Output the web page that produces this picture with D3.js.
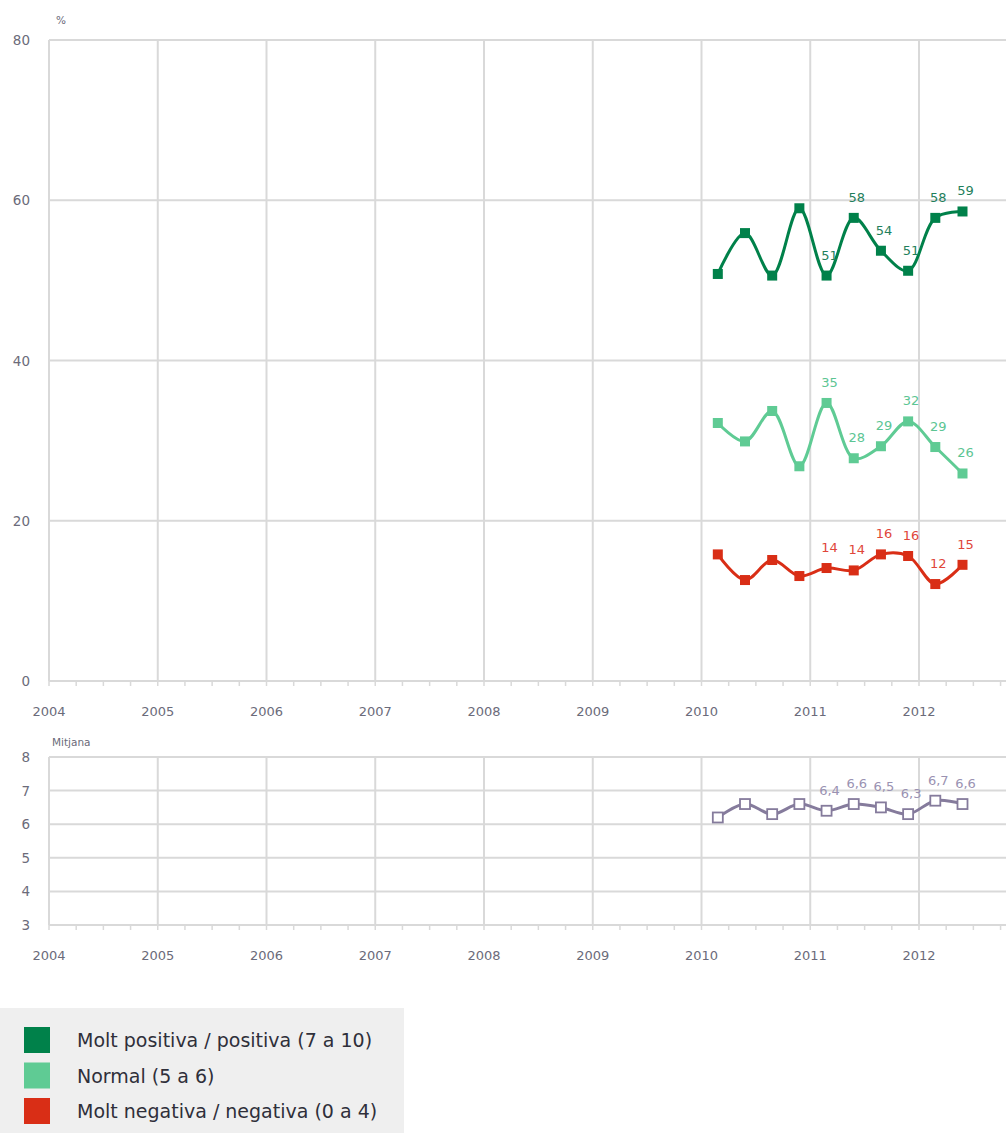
<!DOCTYPE html>
<html lang="ca">
<head>
    <meta charset="UTF-8">
    <script src="https://d3js.org/d3.v7.min.js"></script>
    <title>Valoració</title>
    <style>
        body { margin: 0; background: #fff; }
        text { font-family: "DejaVu Sans", "Liberation Sans", Arial, sans-serif; }
    </style>
</head>
<body>
<div id="viz"></div>
<script>
    // survey waves (decimal years) and values
    const waves = [2010.15, 2010.4, 2010.65, 2010.9, 2011.15, 2011.4, 2011.65, 2011.9, 2012.15, 2012.4];
    const positiva = [50.8, 55.9, 50.6, 59.0, 50.6, 57.8, 53.7, 51.2, 57.8, 58.6];
    const normal = [32.2, 29.9, 33.7, 26.8, 34.7, 27.8, 29.3, 32.4, 29.2, 25.9];
    const negativa = [15.8, 12.6, 15.1, 13.1, 14.1, 13.8, 15.8, 15.6, 12.1, 14.5];
    const mitjana = [6.2, 6.6, 6.3, 6.6, 6.4, 6.6, 6.5, 6.3, 6.7, 6.6];
    const labelFrom = 4; // labels only from 2011 onward
    const years = [2004, 2005, 2006, 2007, 2008, 2009, 2010, 2011, 2012];
    const pctTicks = [0, 20, 40, 60, 80];
    const meanTicks = [3, 4, 5, 6, 7, 8];
    const seriesNames = ["Molt positiva / positiva (7 a 10)", "Normal (5 a 6)", "Molt negativa / negativa (0 a 4)"];
    const seriesColors = ["#00814a", "#5fcb94", "#d92e16"];
    const labelColors = ["#1f7f5c", "#5cc593", "#e0463a"];

    const W = 1006, H = 1133;
    const gridColor = "#d9d9d9", tickColor = "#6b6b7a";

    const svg = d3.select("#viz").append("svg")
        .attr("width", W).attr("height", H);

    const x = d3.scaleLinear().domain([2004, 2013]).range([49, 1027.75]);
    const quarters = d3.range(2004, 2013.01, 0.25);

    // draws grid, axes and ticks for one panel
    function panel(y, ticks, baseY, unit) {
        const g = svg.append("g");
        // horizontal grid
        g.selectAll(".hg").data(ticks).join("line")
            .attr("x1", x(2004)).attr("x2", W)
            .attr("y1", d => y(d)).attr("y2", d => y(d))
            .attr("stroke", gridColor).attr("stroke-width", 2);
        // vertical grid
        g.selectAll(".vg").data(years).join("line")
            .attr("x1", d => x(d)).attr("x2", d => x(d))
            .attr("y1", y(ticks[ticks.length - 1])).attr("y2", baseY)
            .attr("stroke", gridColor).attr("stroke-width", 2);
        // minor ticks
        g.selectAll(".mt").data(quarters).join("line")
            .attr("x1", d => x(d)).attr("x2", d => x(d))
            .attr("y1", baseY).attr("y2", baseY + 5)
            .attr("stroke", gridColor).attr("stroke-width", 1.5);
        // y labels
        g.selectAll(".yl").data(ticks).join("text")
            .attr("x", 30).attr("y", d => y(d) + 5)
            .attr("text-anchor", "end")
            .attr("font-size", 13.5).attr("fill", tickColor)
            .text(d => d);
        // year labels
        g.selectAll(".xl").data(years).join("text")
            .attr("x", d => x(d)).attr("y", baseY + 35)
            .attr("text-anchor", "middle")
            .attr("font-size", 13).attr("fill", tickColor)
            .text(d => d);
        g.append("text")
            .attr("x", unit.x).attr("y", unit.y)
            .attr("font-size", 10.5).attr("fill", tickColor)
            .text(unit.text);
    }

    // top panel
    const y1 = d3.scaleLinear().domain([0, 80]).range([681, 40]);
    panel(y1, pctTicks, 681, {x: 56, y: 24, text: "%"});

    const line = d3.line().curve(d3.curveCatmullRom.alpha(0.5));

    [positiva, normal, negativa].forEach((vals, i) => {
        const pts = vals.map((v, j) => [x(waves[j]), y1(v)]);
        svg.append("path")
            .attr("d", line(pts))
            .attr("fill", "none")
            .attr("stroke", seriesColors[i])
            .attr("stroke-width", 3);
        svg.selectAll(null).data(pts).join("rect")
            .attr("x", d => d[0] - 5).attr("y", d => d[1] - 5)
            .attr("width", 10).attr("height", 10)
            .attr("fill", seriesColors[i]);
        svg.selectAll(null).data(vals.slice(labelFrom)).join("text")
            .attr("x", (d, j) => x(waves[j + labelFrom]) + 3)
            .attr("y", d => y1(d) - 16)
            .attr("text-anchor", "middle")
            .attr("font-size", 13).attr("fill", labelColors[i])
            .text(d => Math.round(d));
    });

    // bottom panel (mean score)
    const y2 = d3.scaleLinear().domain([3, 8]).range([925, 757]);
    panel(y2, meanTicks, 925, {x: 52, y: 746, text: "Mitjana"});

    const mPts = mitjana.map((v, j) => [x(waves[j]), y2(v)]);
    svg.append("path")
        .attr("d", line(mPts))
        .attr("fill", "none")
        .attr("stroke", "#857b9c")
        .attr("stroke-width", 3);
    svg.selectAll(null).data(mPts).join("rect")
        .attr("x", d => d[0] - 5).attr("y", d => d[1] - 5)
        .attr("width", 10).attr("height", 10)
        .attr("fill", "#fff")
        .attr("stroke", "#857b9c").attr("stroke-width", 1.8);
    svg.selectAll(null).data(mitjana.slice(labelFrom)).join("text")
        .attr("x", (d, j) => x(waves[j + labelFrom]) + 3)
        .attr("y", d => y2(d) - 16)
        .attr("text-anchor", "middle")
        .attr("font-size", 13).attr("fill", "#9a92b2")
        .text(d => d.toFixed(1).replace(".", ","));

    // legend
    const leg = svg.append("g");
    leg.append("rect")
        .attr("x", 0).attr("y", 1008).attr("width", 404).attr("height", 125)
        .attr("fill", "#efefef");
    seriesNames.forEach((name, i) => {
        const cy = 1040 + i * 35.5;
        leg.append("rect")
            .attr("x", 24).attr("y", cy - 13).attr("width", 26).attr("height", 26)
            .attr("fill", seriesColors[i]);
        leg.append("text")
            .attr("x", 77).attr("y", cy + 7)
            .attr("font-size", 19).attr("fill", "#2f2f3a")
            .text(name);
    });
</script>
</body>
</html>
